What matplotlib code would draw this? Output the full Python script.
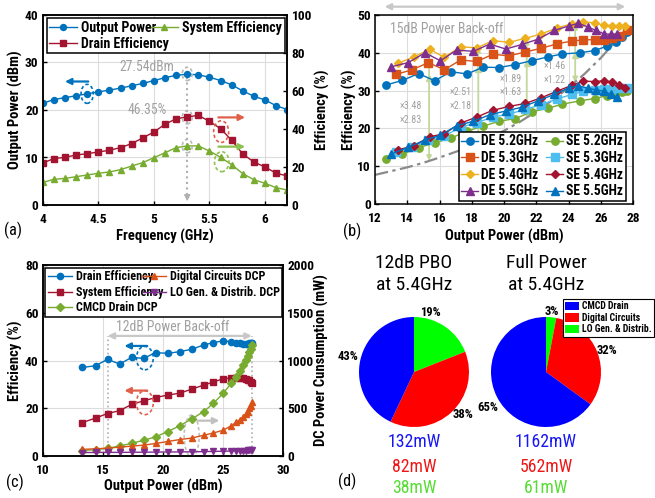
import matplotlib
matplotlib.use('Agg')
import matplotlib.pyplot as plt
from matplotlib import font_manager
from matplotlib.patches import Ellipse, Patch


def pick(prefs):
    have = {}
    for f in font_manager.fontManager.ttflist:
        try:
            w = int(f.weight)
        except (TypeError, ValueError):
            w = 700 if 'bold' in str(f.weight) else 400
        have.setdefault(f.name, set()).add(w)
    for n in prefs:
        if any(w >= 600 for w in have.get(n, ())):
            return n
    return 'Liberation Sans'


FONT = pick(['Liberation Sans Narrow', 'Arial Narrow', 'Roboto Condensed',
             'PT Sans Narrow', 'Asap Condensed', 'Liberation Sans'])
plt.rcParams['font.family'] = [FONT, 'DejaVu Sans']
plt.rcParams['font.weight'] = 'bold'
plt.rcParams['axes.labelweight'] = 'bold'

BLUE, ORANGE, YELLOW, PURPLE = '#0072BD', '#D95319', '#EDB120', '#7E2F8E'
GREEN, LBLUE, DRED = '#77AC30', '#4DBEEE', '#A2142F'
GRAY = '#a0a0a0'

# ---- (a) frequency sweep
freq = [4.0, 4.1, 4.2, 4.3, 4.4, 4.5, 4.6, 4.7, 4.8, 4.9, 5.0, 5.1,
        5.2, 5.3, 5.4, 5.5, 5.6, 5.7, 5.8, 5.9, 6.0, 6.1, 6.2]
pout_a = [21.4, 22.2, 22.6, 23.0, 23.4, 23.8, 24.2, 24.6, 25.1, 25.6, 26.2, 26.8,
          27.3, 27.54, 27.4, 26.9, 26.2, 25.3, 24.0, 22.9, 22.1, 20.9, 20.1]
de_a = [22.1, 24.4, 25.1, 26.3, 27.0, 27.9, 28.8, 30.2, 32.3, 35.3, 38.4, 42.5,
        45.4, 46.35, 47.2, 44.0, 40.2, 34.0, 26.8, 22.6, 20.0, 16.7, 15.3]
se_a = [11.9, 13.5, 14.0, 14.9, 15.8, 16.7, 17.4, 18.6, 20.5, 22.3, 24.9, 27.5,
        30.2, 31.1, 31.1, 28.4, 25.1, 21.2, 16.5, 13.3, 11.4, 9.1, 7.9]

# ---- (b) efficiency vs output power
p52 = [12.7, 13.7, 14.7, 15.7, 16.7, 17.7, 18.7, 19.7, 20.7, 21.7, 22.7, 23.6, 24.7, 25.6, 26.4, 26.9, 27.3, 27.6]
de52 = [31.5, 32.7, 34.5, 32.6, 35.0, 34.4, 36.2, 36.1, 36.9, 37.9, 38.9, 39.7, 40.0, 40.6, 41.8, 42.9, 44.3, 45.5]
se52 = [12.0, 13.2, 14.9, 16.2, 17.4, 19.3, 20.6, 21.9, 22.6, 24.4, 25.3, 26.4, 27.3, 27.9, 28.7, 29.3, 29.7, 30.0]
p53 = [13.3, 14.3, 15.3, 16.3, 17.3, 18.3, 19.3, 20.3, 21.3, 22.3, 23.3, 24.2, 24.9, 25.6, 26.2, 26.7, 27.2, 27.6]
de53 = [34.3, 35.5, 37.4, 35.5, 38.1, 37.7, 39.6, 39.2, 40.2, 41.2, 42.4, 43.1, 43.4, 43.5, 43.5, 43.8, 44.5, 46.0]
se53 = [13.8, 15.0, 17.0, 18.0, 20.3, 21.5, 23.0, 23.8, 25.0, 26.3, 27.8, 29.0, 29.8, 30.2, 30.3, 30.5, 30.6, 30.8]
p54 = [13.4, 14.4, 15.4, 16.3, 17.3, 18.3, 19.3, 20.3, 21.3, 22.3, 23.3, 24.2, 24.9, 25.6, 26.2, 26.7, 27.1, 27.5]
de54 = [37.2, 38.9, 40.9, 38.8, 41.6, 41.3, 43.2, 42.8, 43.8, 45.0, 46.6, 47.7, 48.2, 47.9, 47.3, 47.2, 47.2, 47.2]
se54 = [14.3, 15.4, 17.8, 18.6, 21.4, 23.0, 24.8, 25.8, 26.6, 28.1, 29.9, 31.4, 32.5, 32.4, 32.6, 32.3, 31.6, 30.8]
p55 = [13.0, 14.05, 15.1, 16.05, 17.05, 18.1, 19.1, 20.1, 21.1, 22.1, 23.1, 24.0, 24.6, 25.2, 25.7, 26.2, 26.6, 27.0]
de55 = [36.3, 37.4, 40.0, 37.9, 40.7, 40.4, 42.3, 41.0, 42.2, 43.6, 45.9, 47.1, 47.8, 46.8, 45.9, 45.0, 44.9, 45.0]
se55 = [13.2, 15.0, 16.9, 18.2, 20.7, 21.9, 23.6, 24.6, 25.6, 27.3, 29.0, 30.7, 31.3, 30.6, 30.2, 29.8, 29.0, 28.2]
# class-B reference curve
pb_ref = [12, 13, 14, 15, 16, 17, 18, 19, 20, 21, 22, 23, 24, 25, 26, 27, 27.6]
eff_ref = [7.7, 8.7, 9.7, 10.9, 12.3, 13.8, 15.4, 17.3, 19.4, 21.8, 24.5, 27.5, 30.8, 34.5, 38.7, 43.5, 46.5]
# improvement arrows: x, max DE, min DE, class-B value, labels
arr_x = [15.35, 18.4, 21.4, 24.4]
arr_top = [40.8, 41.5, 43.7, 47.6]
arr_mid = [33.3, 35.6, 37.3, 39.3]
arr_bot = [11.4, 16.2, 22.8, 32.2]
arr_lbl = ['\u00d73.48\n\u00d72.83', '\u00d72.51\n\u00d72.18', '\u00d71.89\n\u00d71.63', '\u00d71.46\n\u00d71.22']

# ---- (c) 5.4 GHz back-off
pc = [13.3, 14.4, 15.4, 16.4, 17.4, 18.4, 19.4, 20.4, 21.4, 22.4, 23.4, 24.2,
      25.0, 25.7, 26.1, 26.4, 26.7, 26.9, 27.05, 27.2, 27.3, 27.45]
de_c = [37.1, 37.8, 40.5, 38.5, 41.3, 40.9, 43.3, 43.0, 43.7, 44.7, 46.5, 47.5,
        48.2, 47.9, 47.4, 47.2, 47.0, 47.0, 47.1, 47.2, 47.3, 47.5]
se_c = [14.0, 15.9, 17.8, 19.0, 21.6, 23.1, 24.5, 25.5, 26.3, 28.0, 29.7, 31.0,
        32.3, 32.7, 32.8, 32.7, 32.5, 32.3, 32.0, 31.7, 31.2, 30.7]
cmcd_c = [55, 68, 80, 105, 132, 165, 200, 256, 316, 388, 465, 550,
          655, 760, 830, 895, 955, 1005, 1045, 1090, 1125, 1162]
dig_c = [69, 76, 82, 93, 103, 114, 131, 152, 172, 188, 217, 241,
         269, 317, 352, 379, 407, 438, 465, 500, 525, 562]
lo_c = [36, 37, 38, 38, 39, 40, 41, 42, 43, 44, 46, 48,
        50, 52, 54, 55, 56, 57, 58, 59, 60, 61]

# ---- (d) DC power breakdown
pie_names = ['CMCD Drain', 'Digital Circuits', 'LO Gen. & Distrib.']
pie_cols = ['#0000FF', '#FF0000', '#00FF00']
pbo_pct = [43, 38, 19]
full_pct = [65, 32, 3]
pbo_mw = [132, 82, 38]
full_mw = [1162, 562, 61]
txt_cols = ['#1515F5', '#F01515', '#55DD33']

W, H = 655, 498
fig = plt.figure(figsize=(W / 100, H / 100), dpi=100)
rend = fig.canvas.get_renderer()


def fit(sample, px, weight='bold'):
    # font size that gives the sample text the width it has in the reference
    t = fig.text(0, 0, sample, fontsize=10, weight=weight)
    w = t.get_window_extent(rend).width
    t.remove()
    return 10 * px / w


FS_TICK = fit('2000', 27)
FS_LAB = fit('Frequency (GHz)', 97)
FS_LEGA = fit('Output Power', 75)
FS_LEGB = fit('DE 5.2GHz', 57)
FS_LEGC = fit('Drain Efficiency', 77)
FS_NOTE = fit('27.54dBm', 55, 'normal')
FS_BO = fit('15dB Power Back-off', 114, 'normal')
FS_RAT = fit('\u00d73.48', 22, 'normal')
FS_TIT = fit('12dB PBO', 77, 'normal')
FS_MW = fit('132mW', 53, 'normal')
FS_PCT = fit('43%', 21)
FS_LEGD = fit('CMCD Drain', 47)
FS_PAN = fit('(a)', 18, 'normal')


def rect(l, t, r, b):
    return [l / W, 1 - b / H, (r - l) / W, (b - t) / H]


def style(ax, ax2=None):
    axs = [ax] + ([ax2] if ax2 is not None else [])
    for a in axs:
        a.tick_params(direction='in', labelsize=FS_TICK, width=1, length=3, pad=3)
        for s in a.spines.values():
            s.set_linewidth(1.1)
    ax.tick_params(axis='x', pad=5.5)
    ax.grid(True, color='#dcdcdc', lw=0.8)
    ax.set_axisbelow(True)


def ell(ax, x, y, w, h, c):
    ax.add_patch(Ellipse((x, y), w, h, fill=False, ec=c, ls=(0, (2, 1.5)), lw=1.2, zorder=5))


def harrow(ax, x0, x1, y, c, both=False):
    ax.annotate('', xy=(x1, y), xytext=(x0, y), annotation_clip=False,
                arrowprops=dict(arrowstyle='<|-|>' if both else '-|>', color=c, lw=1.6,
                                mutation_scale=9, shrinkA=0, shrinkB=0))


def labels(ax, xl, yl, xy, yy, ax2=None, yl2=None, y2x=None):
    ax.set_xlabel(xl, fontsize=FS_LAB)
    ax.set_ylabel(yl, fontsize=FS_LAB)
    ax.xaxis.set_label_coords(0.5, xy)
    ax.yaxis.set_label_coords(yy, 0.5)
    ax.xaxis.label.set_va('center')
    ax.yaxis.label.set_va('center')
    if ax2 is not None:
        ax2.set_ylabel(yl2, fontsize=FS_LAB)
        ax2.yaxis.set_label_coords(y2x, 0.5)
        ax2.yaxis.label.set_va('center')
        ax2.yaxis.label.set_ha('center')


def legend(ax, handles, fs, bbox, **kw):
    opts = dict(ncol=2, fontsize=fs, frameon=True, fancybox=False, edgecolor='black',
                framealpha=1, borderpad=0.25, labelspacing=0.22, handletextpad=0.3,
                columnspacing=0.5, borderaxespad=0)
    opts.update(kw)
    lg = ax.legend(handles=handles, bbox_to_anchor=bbox, **opts)
    lg.get_frame().set_linewidth(1.1)
    return lg


# ================= (a)
axa = fig.add_axes(rect(42.7, 15, 287.3, 205))
axa2 = axa.twinx()
h1, = axa.plot(freq, pout_a, '-o', color=BLUE, ms=4.3, lw=1, label='Output Power')
h2, = axa2.plot(freq, de_a, '-s', color=DRED, ms=4.0, lw=1, label='Drain Efficiency')
h3, = axa2.plot(freq, se_a, '-^', color=GREEN, ms=4.3, lw=1, label='System Efficiency')
axa.set_xlim(4, 6.2)
axa.set_ylim(0, 40)
axa2.set_ylim(0, 100)
axa.set_xticks([4, 4.5, 5, 5.5, 6])
axa.set_xticklabels(['4', '4.5', '5', '5.5', '6'])
axa.set_yticks([0, 10, 20, 30, 40])
axa2.set_yticks([0, 20, 40, 60, 80, 100])
style(axa, axa2)
legend(axa2, [h1, h2, h3], FS_LEGA, (0.016, 0.79, 0.975, 0.195), loc='upper left',
       mode='expand', handlelength=2.0, borderpad=0.2, labelspacing=0.15)
axa.plot([5.3, 5.3], [27.0, 1.5], ls=':', color='#b0b0b0', lw=1.5, zorder=1)
axa.annotate('', xy=(5.3, 0.2), xytext=(5.3, 2.2),
             arrowprops=dict(arrowstyle='-|>', color='#b0b0b0', lw=1, mutation_scale=9))
ell(axa, 5.3, 27.6, 0.09, 2.8, '#b8b8b8')
ell(axa2, 5.3, 46.2, 0.09, 7, '#b8b8b8')
ell(axa2, 5.3, 31.0, 0.09, 7, '#b8b8b8')
axa.text(4.94, 29.1, '27.54dBm', color=GRAY, fontsize=FS_NOTE, weight='normal', ha='center', va='center')
axa.text(4.94, 20.0, '46.35%', color=GRAY, fontsize=FS_NOTE, weight='normal', ha='center', va='center')
ell(axa, 4.4, 23.4, 0.11, 4.0, BLUE)
harrow(axa, 4.41, 4.2, 26.0, BLUE)
ell(axa2, 5.605, 38.6, 0.135, 11.4, '#E0604A')
harrow(axa2, 5.58, 5.82, 46.1, '#E0604A')
ell(axa2, 5.61, 22.8, 0.13, 10.5, '#8CC152')
harrow(axa2, 5.58, 5.82, 30.7, '#8CC152')
labels(axa, 'Frequency (GHz)', 'Output Power (dBm)', -0.168, -0.113, axa2, 'Efficiency (%)', 1.142)

# ================= (b)
axb = fig.add_axes(rect(375, 15, 633.3, 204))
series_b = [
    (p52, de52, 'o', BLUE, 'DE 5.2GHz'), (p53, de53, 's', ORANGE, 'DE 5.3GHz'),
    (p54, de54, 'D', YELLOW, 'DE 5.4GHz'), (p55, de55, '^', PURPLE, 'DE 5.5GHz'),
    (p52, se52, 'o', GREEN, 'SE 5.2GHz'), (p53, se53, 's', LBLUE, 'SE 5.3GHz'),
    (p54, se54, 'D', DRED, 'SE 5.4GHz'), (p55, se55, '^', BLUE, 'SE 5.5GHz'),
]
hb = []
for x, y, m, c, lab in series_b:
    h, = axb.plot(x, y, '-' + m, color=c, ms=5.3 if m != 'D' else 4.5, lw=1, label=lab, zorder=3)
    hb.append(h)
axb.plot(pb_ref, eff_ref, ls=(0, (6, 2, 1.5, 2)), color='#8a8a8a', lw=1.6, zorder=2)
for x, t, mid, b in zip(arr_x, arr_top, arr_mid, arr_bot):
    axb.annotate('', xy=(x, t), xytext=(x, b),
                 arrowprops=dict(arrowstyle='<|-|>', color='#C4D79B', lw=1.3,
                                 mutation_scale=7, shrinkA=0, shrinkB=0), zorder=1)
    axb.plot([x], [mid], marker='^', color='#C4D79B', ms=4, zorder=1)
lbl_pos = [(14.2, 24.0), (17.3, 27.7), (20.4, 31.3), (23.1, 34.7)]
for (lx, ly), s in zip(lbl_pos, arr_lbl):
    axb.text(lx, ly, s, color=GRAY, fontsize=FS_RAT, weight='normal', ha='center',
             va='center', linespacing=1.45)
axb.text(12.9, 46.3, '15dB Power Back-off', color=GRAY, fontsize=FS_BO, weight='normal',
         ha='left', va='center')
harrow(axb, 12.6, 27.5, 52.2, '#c8c8c8', both=True)
axb.set_xlim(12, 28)
axb.set_ylim(0, 50)
axb.set_xticks(range(12, 29, 2))
axb.set_yticks(range(0, 51, 10))
style(axb)
legend(axb, hb, FS_LEGB, (0.97, 0.015), loc='lower right', handlelength=1.25,
       handletextpad=0.2, labelspacing=0.2, columnspacing=0.6, borderpad=0.2)
labels(axb, 'Output Power (dBm)', 'Efficiency (%)', -0.173, -0.1)

# ================= (c)
axc = fig.add_axes(rect(42.7, 265, 283, 456))
axc2 = axc.twinx()
c1, = axc.plot(pc, de_c, '-o', color=BLUE, ms=4.5, lw=1, label='Drain Efficiency')
c2, = axc.plot(pc, se_c, '-s', color=DRED, ms=4.0, lw=1, label='System Efficiency')
c3, = axc2.plot(pc, cmcd_c, '-D', color=GREEN, ms=3.8, lw=1, label='CMCD Drain DCP')
c4, = axc2.plot(pc, dig_c, '-^', color=ORANGE, ms=4.5, lw=1, label='Digital Circuits DCP')
c5, = axc2.plot(pc, lo_c, '-v', color=PURPLE, ms=4.5, lw=1, label='LO Gen. & Distrib. DCP')
axc.set_xlim(10, 30)
axc.set_ylim(0, 80)
axc2.set_ylim(0, 2000)
axc.set_xticks([10, 15, 20, 25, 30])
axc.set_yticks([0, 20, 40, 60, 80])
axc2.set_yticks([0, 500, 1000, 1500, 2000])
style(axc, axc2)
legend(axc2, [c1, c2, c3, c4, c5], FS_LEGC, (0.01, 0.728, 0.986, 0.256), loc='upper left',
       mode='expand', handlelength=2.0, borderpad=0.2, labelspacing=0.2, columnspacing=0.2)
for xv in [15.4, 27.4]:
    axc.plot([xv, xv], [0, 50.3], ls=':', color='#b0b0b0', lw=1.2, zorder=1)
harrow(axc, 15.4, 27.4, 50.3, '#c8c8c8', both=True)
axc.text(20.85, 54.0, '12dB Power Back-off', color=GRAY, fontsize=FS_BO, weight='normal',
         ha='center', va='center')
ell(axc, 18.5, 41.0, 1.4, 9.8, BLUE)
harrow(axc, 18.7, 16.8, 46.1, BLUE)
ell(axc, 18.5, 22.3, 1.4, 10.0, '#E0604A')
harrow(axc, 18.7, 16.8, 27.4, '#E0604A')
ell(axc, 22.4, 8.4, 1.25, 17.5, '#c0c0c0')
harrow(axc, 22.9, 24.7, 14.8, '#c0c0c0')
labels(axc, 'Output Power (dBm)', 'Efficiency (%)', -0.162, -0.115, axc2,
       'DC Power Cunsumption (mW)', 1.162)

# ================= (d)
pies = [((414, 372), pbo_pct, pbo_mw, ['12dB PBO', 'at 5.4GHz'],
         [(-1.2, 0.29), (0.89, -0.78), (0.29, 1.09)]),
        ((546, 372), full_pct, full_mw, ['Full Power', 'at 5.4GHz'],
         [(-1.05, -0.64), (1.11, 0.4), (0.1, 1.1)])]
for (cx, cy), pct, mw, title, lpos in pies:
    ax = fig.add_axes(rect(cx - 55, cy - 55, cx + 55, cy + 55))
    ax.pie(pct[::-1], colors=pie_cols[::-1], startangle=90, counterclock=False,
           wedgeprops=dict(linewidth=0))
    ax.set_xlim(-1, 1)
    ax.set_ylim(-1, 1)
    ax.set_aspect('equal')
    ax.axis('off')
    for v, (px, py) in zip(pct, lpos):
        ax.text(px, py, f'{v}%', fontsize=FS_PCT, ha='center', va='center', clip_on=False)
    fig.text(cx / W, 1 - 263 / H, title[0], fontsize=FS_TIT, weight='normal', ha='center', va='center')
    fig.text(cx / W, 1 - 285 / H, title[1], fontsize=FS_TIT, weight='normal', ha='center', va='center')
    for v, c, ty in zip(mw, txt_cols, [441.7, 466.7, 488]):
        fig.text(cx / W, 1 - ty / H, f'{v}mW', color=c, fontsize=FS_MW, weight='normal',
                 ha='center', va='center')
lg = fig.legend(handles=[Patch(fc=c, ec='none', label=n) for c, n in zip(pie_cols, pie_names)],
                loc='upper right', bbox_to_anchor=(654 / W, 1 - 299 / H), fontsize=FS_LEGD,
                frameon=True, fancybox=False, edgecolor='black', framealpha=1,
                handlelength=1.4, handleheight=0.9, borderpad=0.25, labelspacing=0.15,
                handletextpad=0.3, borderaxespad=0)
lg.get_frame().set_linewidth(0.8)

for s, x, y in [('(a)', 13, 230), ('(b)', 352, 231), ('(c)', 15, 482), ('(d)', 347, 481)]:
    fig.text(x / W, 1 - y / H, s, fontsize=FS_PAN, weight='normal', ha='center', va='center')

fig.savefig('out.png', dpi=100)
